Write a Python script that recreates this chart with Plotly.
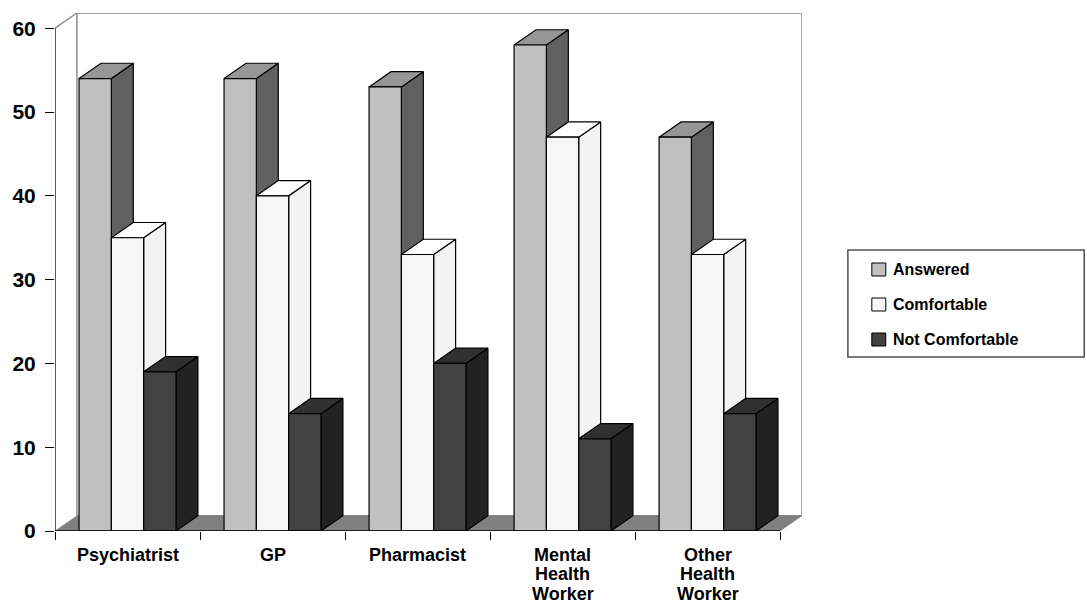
import plotly.graph_objects as go

# ---- data ----
categories = ["Psychiatrist", "GP", "Pharmacist", "Mental Health Worker", "Other Health Worker"]
category_lines = [["Psychiatrist"], ["GP"], ["Pharmacist"],
                  ["Mental", "Health", "Worker"], ["Other", "Health", "Worker"]]
series_names = ["Answered", "Comfortable", "Not Comfortable"]
answered = [54, 54, 53, 58, 47]
comfortable = [35, 40, 33, 47, 33]
not_comfortable = [19, 14, 20, 11, 14]
y_ticks = [0, 10, 20, 30, 40, 50, 60]

series_values = [answered, comfortable, not_comfortable]

# ---- styling ----
W, H = 1087, 603
ML, MR, MT, MB = 53, 285, 13, 72
FONT = "Liberation Sans, Arial, sans-serif"
DX = 0.1513          # depth offset along x (category units)
DY = 1.82            # depth offset along y (value units)
BAR_W = 0.2228       # front face width (category units)
YMAX = 60
face_colors = [
    # front, top, side
    ("#C0C0C0", "#969696", "#606060"),
    ("#F6F6F6", "#FFFFFF", "#F3F3F3"),
    ("#424242", "#303030", "#222222"),
]
legend_colors = ["#C0C0C0", "#F6F6F6", "#424242"]
WALL = "#8C8C8C"
FLOOR = "#808080"

n = len(categories)
plot_w = W - ML - MR
plot_h = H - MT - MB


def px_to_paper_x(px):
    return (px - ML) / plot_w


def py_to_paper_y(py):
    return (H - MB - py) / plot_h


fig = go.Figure()


def poly(xs, ys, fill, line_color, line_width=1.2):
    fig.add_trace(go.Scatter(
        x=xs, y=ys, mode="lines", fill="toself", fillcolor=fill,
        line=dict(color=line_color, width=line_width),
        hoverinfo="skip", showlegend=False))


# back wall and floor
poly([DX, n + DX, n + DX, DX, DX], [DY, DY, YMAX + DY, YMAX + DY, DY], "#FFFFFF", WALL, 1.5)
fig.add_trace(go.Scatter(x=[0, DX], y=[YMAX, YMAX + DY], mode="lines",
                         line=dict(color=WALL, width=1.5), hoverinfo="skip", showlegend=False))
poly([0, n, n + DX, DX, 0], [0, 0, DY, DY, 0], FLOOR, FLOOR, 0.5)

# 3D bars: per series the side, top and front faces
for k, vals in enumerate(series_values):
    front_c, top_c, side_c = face_colors[k]
    fx, fy, tx, ty, sx, sy = [], [], [], [], [], []
    for c, v in enumerate(vals):
        x0 = c + 0.5 + (k - 1.5) * BAR_W
        x1 = x0 + BAR_W
        fx += [x0, x1, x1, x0, x0, None]
        fy += [0, 0, v, v, 0, None]
        tx += [x0, x1, x1 + DX, x0 + DX, x0, None]
        ty += [v, v, v + DY, v + DY, v, None]
        sx += [x1, x1 + DX, x1 + DX, x1, x1, None]
        sy += [0, DY, v + DY, v, 0, None]
    poly(sx, sy, side_c, "#000000")
    poly(tx, ty, top_c, "#000000")
    poly(fx, fy, front_c, "#000000")

# axis lines
fig.add_trace(go.Scatter(x=[0, 0], y=[0, YMAX], mode="lines",
                         line=dict(color="#000000", width=1.3), hoverinfo="skip", showlegend=False))
fig.add_trace(go.Scatter(x=[0, n], y=[0, 0], mode="lines",
                         line=dict(color="#000000", width=1.3), hoverinfo="skip", showlegend=False))

annotations = []
# category labels, one line per annotation
line_step = 19.5
for c, lines in enumerate(category_lines):
    for i, text in enumerate(lines):
        annotations.append(dict(
            x=c + 0.5, xref="x", y=py_to_paper_y(554.5 + i * line_step), yref="paper",
            text="<b>" + text + "</b>", showarrow=False, xanchor="center", yanchor="middle",
            font=dict(family=FONT, size=18, color="#000000")))

# legend
shapes = [dict(type="rect", xref="paper", yref="paper",
               x0=px_to_paper_x(848), x1=px_to_paper_x(1085),
               y0=py_to_paper_y(250), y1=py_to_paper_y(357),
               line=dict(color="#505050", width=1.5), fillcolor="#FFFFFF", layer="below")]
for k, name in enumerate(series_names):
    cy = 269.5 + k * 35
    shapes.append(dict(type="rect", xref="paper", yref="paper",
                       x0=px_to_paper_x(872), x1=px_to_paper_x(886),
                       y0=py_to_paper_y(cy + 6.5), y1=py_to_paper_y(cy - 6.5),
                       line=dict(color="#000000", width=1), fillcolor=legend_colors[k]))
    annotations.append(dict(
        x=px_to_paper_x(891), xref="paper", y=py_to_paper_y(cy), yref="paper",
        text="<b>" + name + "</b>", showarrow=False, xanchor="left", yanchor="middle",
        font=dict(family=FONT, size=16, color="#000000")))

fig.update_layout(
    width=W, height=H, autosize=False,
    margin=dict(l=ML, r=MR, t=MT, b=MB, pad=0),
    paper_bgcolor="#FFFFFF", plot_bgcolor="#FFFFFF",
    showlegend=False, hovermode=False,
    shapes=shapes, annotations=annotations,
    xaxis=dict(range=[0, n + DX], showgrid=False, zeroline=False, showline=False,
               tickmode="array", tickvals=list(range(n + 1)), showticklabels=False,
               ticks="outside", ticklen=8, tickwidth=1.3, tickcolor="#000000", fixedrange=True),
    yaxis=dict(range=[0, YMAX + DY], showgrid=False, zeroline=False, showline=False,
               tickmode="array", tickvals=y_ticks, ticktext=["<b>%d</b>" % t for t in y_ticks],
               ticks="outside", ticklen=9, tickwidth=1.3, tickcolor="#000000",
               ticklabelstandoff=5,
               tickfont=dict(family=FONT, size=21, color="#000000"), fixedrange=True),
)

fig.write_html("out.html")
